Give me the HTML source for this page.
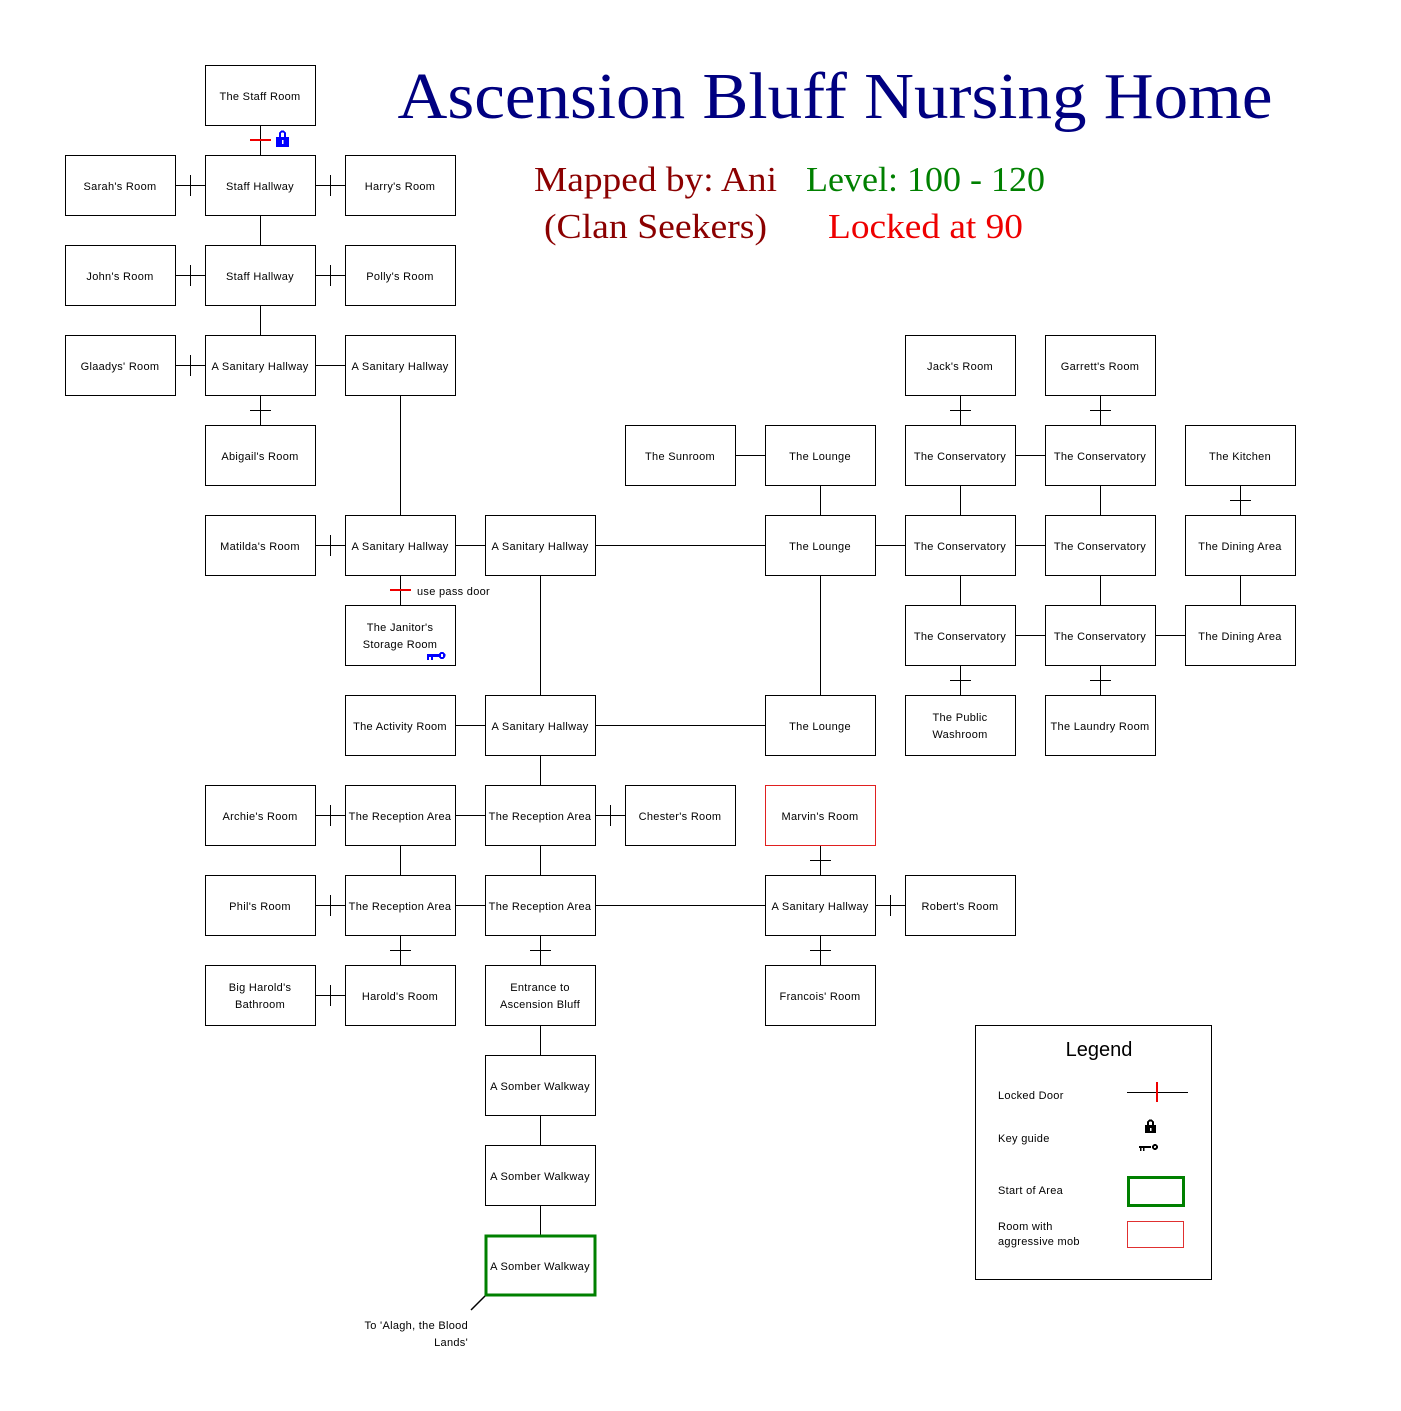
<!DOCTYPE html>
<html><head><meta charset="utf-8"><style>
body{margin:0;background:#fff}
svg text{font-family:"Liberation Sans",sans-serif}
svg text.s{font-family:"Liberation Serif",serif}
.b{fill:#fff;stroke:#000;stroke-width:1}
.t{font-size:11px;text-anchor:middle;letter-spacing:0.3px}
.l{stroke:#000;stroke-width:1}
.r{stroke:#e00;stroke-width:2}
</style></head><body>
<svg width="1401" height="1406" xmlns="http://www.w3.org/2000/svg" shape-rendering="crispEdges">
<text class="s" x="835" y="118" font-size="66" fill="#000080" text-anchor="middle" textLength="875" lengthAdjust="spacingAndGlyphs">Ascension Bluff Nursing Home</text>
<text class="s" x="534" y="191" font-size="35" fill="#8b0000" textLength="243" lengthAdjust="spacingAndGlyphs">Mapped by: Ani</text>
<text class="s" x="806" y="191" font-size="35" fill="#008000" textLength="239" lengthAdjust="spacingAndGlyphs">Level: 100 - 120</text>
<text class="s" x="544" y="238" font-size="35" fill="#8b0000" textLength="223" lengthAdjust="spacingAndGlyphs">(Clan Seekers)</text>
<text class="s" x="828" y="238" font-size="35" fill="#e00" textLength="195" lengthAdjust="spacingAndGlyphs">Locked at 90</text>
<g class="l">
<line x1="175.5" y1="185.5" x2="205.5" y2="185.5"/><line x1="315" y1="185.5" x2="345" y2="185.5"/>
<line x1="175" y1="275.5" x2="205" y2="275.5"/><line x1="315" y1="275.5" x2="345" y2="275.5"/>
<line x1="175" y1="365.5" x2="205" y2="365.5"/><line x1="315" y1="365.5" x2="345" y2="365.5"/>
<line x1="735" y1="455.5" x2="765" y2="455.5"/><line x1="1015" y1="455.5" x2="1045" y2="455.5"/>
<line x1="315" y1="545.5" x2="345" y2="545.5"/><line x1="455" y1="545.5" x2="485" y2="545.5"/><line x1="595" y1="545.5" x2="765" y2="545.5"/><line x1="875" y1="545.5" x2="905" y2="545.5"/><line x1="1015" y1="545.5" x2="1045" y2="545.5"/>
<line x1="1015" y1="635.5" x2="1045" y2="635.5"/><line x1="1155" y1="635.5" x2="1185" y2="635.5"/>
<line x1="455" y1="725.5" x2="485" y2="725.5"/><line x1="595" y1="725.5" x2="765" y2="725.5"/>
<line x1="315" y1="815.5" x2="345" y2="815.5"/><line x1="455" y1="815.5" x2="485" y2="815.5"/><line x1="595" y1="815.5" x2="625" y2="815.5"/>
<line x1="315" y1="905.5" x2="345" y2="905.5"/><line x1="455" y1="905.5" x2="485" y2="905.5"/><line x1="595" y1="905.5" x2="765" y2="905.5"/><line x1="875" y1="905.5" x2="905" y2="905.5"/>
<line x1="315" y1="995.5" x2="345" y2="995.5"/>
<line x1="190.5" y1="175" x2="190.5" y2="196"/><line x1="330.5" y1="175" x2="330.5" y2="196"/>
<line x1="190.5" y1="265" x2="190.5" y2="286"/><line x1="330.5" y1="265" x2="330.5" y2="286"/>
<line x1="190.5" y1="355" x2="190.5" y2="376"/><line x1="330.5" y1="535" x2="330.5" y2="556"/>
<line x1="330.5" y1="805" x2="330.5" y2="826"/><line x1="610.5" y1="805" x2="610.5" y2="826"/>
<line x1="330.5" y1="895" x2="330.5" y2="916"/><line x1="890.5" y1="895" x2="890.5" y2="916"/>
<line x1="330.5" y1="985" x2="330.5" y2="1006"/>
<line x1="260.5" y1="125" x2="260.5" y2="155"/><line x1="260.5" y1="215" x2="260.5" y2="245"/><line x1="260.5" y1="305" x2="260.5" y2="335"/><line x1="260.5" y1="395" x2="260.5" y2="425"/>
<line x1="400.5" y1="395" x2="400.5" y2="515"/><line x1="400.5" y1="575" x2="400.5" y2="605"/>
<line x1="960.5" y1="395" x2="960.5" y2="425"/><line x1="1100.5" y1="395" x2="1100.5" y2="425"/>
<line x1="820.5" y1="485" x2="820.5" y2="515"/><line x1="960.5" y1="485" x2="960.5" y2="515"/><line x1="1100.5" y1="485" x2="1100.5" y2="515"/><line x1="1240.5" y1="485" x2="1240.5" y2="515"/>
<line x1="960.5" y1="575" x2="960.5" y2="605"/><line x1="1100.5" y1="575" x2="1100.5" y2="605"/><line x1="1240.5" y1="575" x2="1240.5" y2="605"/>
<line x1="540.5" y1="575" x2="540.5" y2="695"/><line x1="820.5" y1="575" x2="820.5" y2="695"/>
<line x1="960.5" y1="665" x2="960.5" y2="695"/><line x1="1100.5" y1="665" x2="1100.5" y2="695"/>
<line x1="540.5" y1="755" x2="540.5" y2="785"/>
<line x1="400.5" y1="845" x2="400.5" y2="875"/><line x1="540.5" y1="845" x2="540.5" y2="875"/><line x1="820.5" y1="845" x2="820.5" y2="875"/>
<line x1="400.5" y1="935" x2="400.5" y2="965"/><line x1="540.5" y1="935" x2="540.5" y2="965"/><line x1="820.5" y1="935" x2="820.5" y2="965"/>
<line x1="540.5" y1="1025" x2="540.5" y2="1055"/><line x1="540.5" y1="1115" x2="540.5" y2="1145"/><line x1="540.5" y1="1205" x2="540.5" y2="1235"/>
<line x1="250" y1="410.5" x2="271" y2="410.5"/><line x1="950" y1="410.5" x2="971" y2="410.5"/><line x1="1090" y1="410.5" x2="1111" y2="410.5"/>
<line x1="1230" y1="500.5" x2="1251" y2="500.5"/><line x1="950" y1="680.5" x2="971" y2="680.5"/><line x1="1090" y1="680.5" x2="1111" y2="680.5"/>
<line x1="810" y1="860.5" x2="831" y2="860.5"/><line x1="390" y1="950.5" x2="411" y2="950.5"/><line x1="530" y1="950.5" x2="551" y2="950.5"/><line x1="810" y1="950.5" x2="831" y2="950.5"/>
</g>
<line class="r" x1="250" y1="140" x2="271" y2="140"/>
<line class="r" x1="390" y1="590" x2="411" y2="590"/>
<text x="417" y="595" font-size="11" letter-spacing="0.3">use pass door</text>
<g fill="#0000ff"><rect x="276" y="137" width="13" height="10"/><path d="M279 137v-3a3.5 3.5 0 0 1 7 0v3h-2v-3a1.5 1.5 0 0 0-3 0v3z"/></g>
<rect x="282" y="140" width="1.5" height="4" fill="#fff"/>
<g>
<rect class="b" x="205.5" y="65.5" width="110" height="60"/><text class="t" x="260" y="100">The Staff Room</text>
<rect class="b" x="65.5" y="155.5" width="110" height="60"/><text class="t" x="120" y="190">Sarah's Room</text>
<rect class="b" x="205.5" y="155.5" width="110" height="60"/><text class="t" x="260" y="190">Staff Hallway</text>
<rect class="b" x="345.5" y="155.5" width="110" height="60"/><text class="t" x="400" y="190">Harry's Room</text>
<rect class="b" x="65.5" y="245.5" width="110" height="60"/><text class="t" x="120" y="280">John's Room</text>
<rect class="b" x="205.5" y="245.5" width="110" height="60"/><text class="t" x="260" y="280">Staff Hallway</text>
<rect class="b" x="345.5" y="245.5" width="110" height="60"/><text class="t" x="400" y="280">Polly's Room</text>
<rect class="b" x="65.5" y="335.5" width="110" height="60"/><text class="t" x="120" y="370">Glaadys' Room</text>
<rect class="b" x="205.5" y="335.5" width="110" height="60"/><text class="t" x="260" y="370">A Sanitary Hallway</text>
<rect class="b" x="345.5" y="335.5" width="110" height="60"/><text class="t" x="400" y="370">A Sanitary Hallway</text>
<rect class="b" x="905.5" y="335.5" width="110" height="60"/><text class="t" x="960" y="370">Jack's Room</text>
<rect class="b" x="1045.5" y="335.5" width="110" height="60"/><text class="t" x="1100" y="370">Garrett's Room</text>
<rect class="b" x="205.5" y="425.5" width="110" height="60"/><text class="t" x="260" y="460">Abigail's Room</text>
<rect class="b" x="625.5" y="425.5" width="110" height="60"/><text class="t" x="680" y="460">The Sunroom</text>
<rect class="b" x="765.5" y="425.5" width="110" height="60"/><text class="t" x="820" y="460">The Lounge</text>
<rect class="b" x="905.5" y="425.5" width="110" height="60"/><text class="t" x="960" y="460">The Conservatory</text>
<rect class="b" x="1045.5" y="425.5" width="110" height="60"/><text class="t" x="1100" y="460">The Conservatory</text>
<rect class="b" x="1185.5" y="425.5" width="110" height="60"/><text class="t" x="1240" y="460">The Kitchen</text>
<rect class="b" x="205.5" y="515.5" width="110" height="60"/><text class="t" x="260" y="550">Matilda's Room</text>
<rect class="b" x="345.5" y="515.5" width="110" height="60"/><text class="t" x="400" y="550">A Sanitary Hallway</text>
<rect class="b" x="485.5" y="515.5" width="110" height="60"/><text class="t" x="540" y="550">A Sanitary Hallway</text>
<rect class="b" x="765.5" y="515.5" width="110" height="60"/><text class="t" x="820" y="550">The Lounge</text>
<rect class="b" x="905.5" y="515.5" width="110" height="60"/><text class="t" x="960" y="550">The Conservatory</text>
<rect class="b" x="1045.5" y="515.5" width="110" height="60"/><text class="t" x="1100" y="550">The Conservatory</text>
<rect class="b" x="1185.5" y="515.5" width="110" height="60"/><text class="t" x="1240" y="550">The Dining Area</text>
<rect class="b" x="345.5" y="605.5" width="110" height="60"/><text class="t" x="400" y="631">The Janitor's</text><text class="t" x="400" y="648">Storage Room</text>
<rect class="b" x="905.5" y="605.5" width="110" height="60"/><text class="t" x="960" y="640">The Conservatory</text>
<rect class="b" x="1045.5" y="605.5" width="110" height="60"/><text class="t" x="1100" y="640">The Conservatory</text>
<rect class="b" x="1185.5" y="605.5" width="110" height="60"/><text class="t" x="1240" y="640">The Dining Area</text>
<rect class="b" x="345.5" y="695.5" width="110" height="60"/><text class="t" x="400" y="730">The Activity Room</text>
<rect class="b" x="485.5" y="695.5" width="110" height="60"/><text class="t" x="540" y="730">A Sanitary Hallway</text>
<rect class="b" x="765.5" y="695.5" width="110" height="60"/><text class="t" x="820" y="730">The Lounge</text>
<rect class="b" x="905.5" y="695.5" width="110" height="60"/><text class="t" x="960" y="721">The Public</text><text class="t" x="960" y="738">Washroom</text>
<rect class="b" x="1045.5" y="695.5" width="110" height="60"/><text class="t" x="1100" y="730">The Laundry Room</text>
<rect class="b" x="205.5" y="785.5" width="110" height="60"/><text class="t" x="260" y="820">Archie's Room</text>
<rect class="b" x="345.5" y="785.5" width="110" height="60"/><text class="t" x="400" y="820">The Reception Area</text>
<rect class="b" x="485.5" y="785.5" width="110" height="60"/><text class="t" x="540" y="820">The Reception Area</text>
<rect class="b" x="625.5" y="785.5" width="110" height="60"/><text class="t" x="680" y="820">Chester's Room</text>
<rect x="765.5" y="785.5" width="110" height="60" fill="#fff" stroke="#e02020"/><text class="t" x="820" y="820">Marvin's Room</text>
<rect class="b" x="205.5" y="875.5" width="110" height="60"/><text class="t" x="260" y="910">Phil's Room</text>
<rect class="b" x="345.5" y="875.5" width="110" height="60"/><text class="t" x="400" y="910">The Reception Area</text>
<rect class="b" x="485.5" y="875.5" width="110" height="60"/><text class="t" x="540" y="910">The Reception Area</text>
<rect class="b" x="765.5" y="875.5" width="110" height="60"/><text class="t" x="820" y="910">A Sanitary Hallway</text>
<rect class="b" x="905.5" y="875.5" width="110" height="60"/><text class="t" x="960" y="910">Robert's Room</text>
<rect class="b" x="205.5" y="965.5" width="110" height="60"/><text class="t" x="260" y="991">Big Harold's</text><text class="t" x="260" y="1008">Bathroom</text>
<rect class="b" x="345.5" y="965.5" width="110" height="60"/><text class="t" x="400" y="1000">Harold's Room</text>
<rect class="b" x="485.5" y="965.5" width="110" height="60"/><text class="t" x="540" y="991">Entrance to</text><text class="t" x="540" y="1008">Ascension Bluff</text>
<rect class="b" x="765.5" y="965.5" width="110" height="60"/><text class="t" x="820" y="1000">Francois' Room</text>
<rect class="b" x="485.5" y="1055.5" width="110" height="60"/><text class="t" x="540" y="1090">A Somber Walkway</text>
<rect class="b" x="485.5" y="1145.5" width="110" height="60"/><text class="t" x="540" y="1180">A Somber Walkway</text>
<rect x="486" y="1236" width="109" height="59" fill="#fff" stroke="#008000" stroke-width="3"/><text class="t" x="540" y="1270">A Somber Walkway</text>
</g>
<!-- key blue (drawn after boxes) -->
<g fill="#0000ff"><rect x="427" y="654" width="13" height="3"/><rect x="427" y="657" width="2" height="3"/><rect x="431" y="657" width="2" height="3"/><circle cx="442" cy="655.5" r="3.5"/></g><rect x="441" y="654" width="2" height="3" fill="#fff"/>
<line x1="485" y1="1296" x2="471" y2="1310" stroke="#000" stroke-width="1.5" shape-rendering="auto"/>
<text x="468" y="1329" font-size="11" text-anchor="end" letter-spacing="0.3">To 'Alagh, the Blood</text>
<text x="468" y="1346" font-size="11" text-anchor="end" letter-spacing="0.3">Lands'</text>
<rect class="b" x="975.5" y="1025.5" width="236" height="254"/>
<text x="1099" y="1056" font-size="20" text-anchor="middle">Legend</text>
<text x="998" y="1099" font-size="11" letter-spacing="0.3">Locked Door</text>
<line class="l" x1="1127" y1="1092.5" x2="1188" y2="1092.5"/>
<line class="r" x1="1157" y1="1082" x2="1157" y2="1102"/>
<text x="998" y="1142" font-size="11" letter-spacing="0.3">Key guide</text>
<g fill="#000"><rect x="1145" y="1125" width="11" height="8"/><path d="M1147 1125v-2a3.5 3.5 0 0 1 7 0v2h-2v-2a1.5 1.5 0 0 0-3 0v2z"/>
<rect x="1139" y="1146" width="12" height="2"/><rect x="1140" y="1148" width="1.5" height="3"/><rect x="1143" y="1148" width="1.5" height="3"/><circle cx="1155" cy="1147" r="3"/></g>
<rect x="1150" y="1128" width="1.5" height="3" fill="#fff"/><circle cx="1155" cy="1147" r="1" fill="#fff"/>
<text x="998" y="1194" font-size="11" letter-spacing="0.3">Start of Area</text>
<rect x="1128.5" y="1177.5" width="55" height="28" fill="#fff" stroke="#008000" stroke-width="3"/>
<text x="998" y="1230" font-size="11" letter-spacing="0.3">Room with</text>
<text x="998" y="1245" font-size="11" letter-spacing="0.3">aggressive mob</text>
<rect x="1127.5" y="1221.5" width="56" height="26" fill="#fff" stroke="#e03030"/>
</svg>
</body></html>
